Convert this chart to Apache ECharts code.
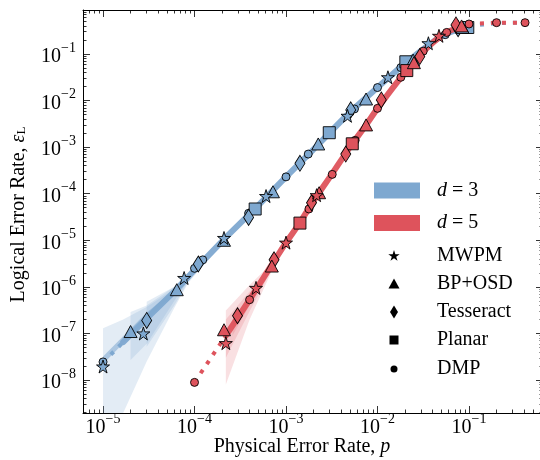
<!DOCTYPE html>
<html><head><meta charset="utf-8">
<script src="https://cdn.jsdelivr.net/npm/echarts@6/dist/echarts.min.js"></script>
<style>html,body{margin:0;padding:0;background:#fff}#c{width:540px;height:460px}</style>
</head><body><div id="c"></div>
<script>
// ---------- axis ticks ----------
const xMajorTicks = [1e-5, 1e-4, 1e-3, 1e-2, 1e-1];
const yMajorTicks = [1e-8, 1e-7, 1e-6, 1e-5, 1e-4, 1e-3, 1e-2, 1e-1];
const xRange = [6.04e-6, 0.644];
const yRange = [1.96e-9, 0.879];

// ---------- d = 3 markers ----------
const d3_MWPM      = [[1e-5,1.95e-8],[2.76e-5,1e-7],[7.7e-5,1.55e-6],[2.1e-4,1.12e-5],[6.05e-4,8.9e-5],[4.7e-3,4.7e-3],[1.3e-2,3.16e-2],[3.6e-2,0.17]];
const d3_BPOSD     = [[2e-5,1.1e-7],[6.4e-5,8.7e-7],[2.1e-4,1.0e-5],[7.2e-4,1.1e-4],[2.25e-3,1.17e-3],[7.5e-3,1.08e-2],[2.45e-2,7.4e-2],[8.5e-2,0.37]];
const d3_Tesseract = [[3e-5,1.9e-7],[1.1e-4,3.1e-6],[3.9e-4,3.1e-5],[1.42e-3,4.5e-4],[5.1e-3,6.3e-3],[7.6e-2,0.35]];
const d3_Planar    = [[4.6e-4,4.7e-5],[2.97e-3,2.04e-3],[2.04e-2,6.8e-2],[0.097,0.37]];
const d3_DMP       = [[1e-5,2.45e-8],[1.0e-4,2.5e-6],[1.23e-4,3.8e-6],[3.9e-4,3.8e-5],[1e-3,2.3e-4],[1.75e-3,7.1e-4],[5.6e-3,6.6e-3],[1e-2,1.9e-2],[1.8e-2,5.1e-2],[5.5e-2,0.26]];

// ---------- d = 5 markers ----------
const d5_MWPM      = [[2.2e-4,6.2e-8],[4.7e-4,9.5e-7],[1e-3,8.9e-6],[2.16e-3,9.3e-5],[4.7e-2,0.245]];
const d5_BPOSD     = [[2.1e-4,1.2e-7],[7e-4,2.8e-6],[2.3e-3,1.05e-4],[7.5e-3,3e-3],[2.5e-2,6.5e-2],[8.3e-2,0.4]];
const d5_Tesseract = [[2.95e-4,2.4e-7],[7.4e-4,3.8e-6],[1.9e-3,6.4e-5],[4.5e-3,7.1e-4],[1.1e-2,1.03e-2],[2.9e-2,8.8e-2],[7.2e-2,0.42]];
const d5_Planar    = [[1.42e-3,2.34e-5],[5.3e-3,1.18e-3],[2.09e-2,4.4e-2]];
const d5_DMP       = [[1e-4,8.9e-9],[4e-4,5.3e-7],[1.78e-3,4.7e-5],[3.2e-3,2.6e-4],[5.7e-3,1.4e-3],[1e-2,6.8e-3],[1.8e-2,3.16e-2],[3.16e-2,0.115],[5.7e-2,0.29],[0.1,0.44],[0.2,0.47],[0.41,0.47]];

// ---------- fit curves ----------
const d3FitX = [1.66e-5, 3e-5, 6.4e-5, 1e-4, 2.1e-4, 4.5e-4, 1e-3, 2e-3, 5e-3, 1e-2, 2e-2, 5e-2, 1e-1];
const d3FitY = [6.5e-8, 2.1e-7, 9e-7, 2.3e-6, 1.05e-5, 4.6e-5, 2.3e-4, 9e-4, 5.6e-3, 1.9e-2, 6.3e-2, 0.24, 0.4];
const d3ExtLoX = [1e-5, 1.66e-5];
const d3ExtLoY = [2.4e-8, 6.5e-8];
const d3ExtHiX = [0.1, 0.2, 0.41];
const d3ExtHiY = [0.4, 0.46, 0.47];

const d5FitX = [2.2e-4, 4e-4, 7e-4, 1e-3, 1.42e-3, 2e-3, 3.2e-3, 5e-3, 7.5e-3, 1e-2, 1.8e-2, 3.2e-2, 5.7e-2, 1e-1];
const d5FitY = [9e-8, 5.3e-7, 3e-6, 8.9e-6, 2.4e-5, 7e-5, 2.7e-4, 1e-3, 3e-3, 6.8e-3, 3.1e-2, 0.115, 0.29, 0.44];
const d5ExtLoX = [1e-4, 2.2e-4];
const d5ExtLoY = [8.9e-9, 9e-8];
const d5ExtHiX = [0.1, 0.2, 0.41];
const d5ExtHiY = [0.44, 0.47, 0.47];

// ---------- confidence bands ----------
const d3BandA_x  = [1e-5, 1.66e-5, 3e-5, 6e-5, 8.5e-5, 1.3e-4];
const d3BandA_hi = [1.3e-7, 2e-7, 3.7e-7, 9e-7, 1.65e-6, 3.6e-6];
const d3BandA_lo = [1.96e-9, 1.96e-9, 2.5e-8, 3.5e-7, 1.2e-6, 3.2e-6];
const d3BandB_x  = [2e-5, 3e-5, 6e-5, 1e-4];
const d3BandB_hi = [2.9e-7, 4e-7, 1e-6, 2.6e-6];
const d3BandB_lo = [2.7e-8, 6e-8, 5e-7, 2.2e-6];
const d3BandC_x  = [3e-5, 6e-5, 1e-4];
const d3BandC_hi = [4.8e-7, 1e-6, 2.6e-6];
const d3BandC_lo = [5.2e-8, 4e-7, 2.2e-6];
const d3BandD_x  = [1e-5, 3e-5, 6e-5];
const d3BandD_hi = [3.2e-8, 2.8e-7, 8.5e-7];
const d3BandD_lo = [2.2e-8, 2e-7, 7e-7];

const d5BandA_x  = [2.2e-4, 4e-4, 7e-4];
const d5BandA_hi = [3.1e-7, 1.1e-6, 3.2e-6];
const d5BandA_lo = [8e-9, 2e-7, 2.2e-6];
const d5BandB_x  = [2.2e-4, 4e-4, 7e-4];
const d5BandB_hi = [2e-7, 8e-7, 3e-6];
const d5BandB_lo = [3e-8, 3e-7, 2.4e-6];
const d5BandC_x  = [2.6e-4, 4e-4, 6e-4];
const d5BandC_hi = [2e-7, 6e-7, 1.8e-6];
const d5BandC_lo = [9e-8, 4e-7, 1.5e-6];

// ---------- styling ----------
const BLUE = '#7ea8d0';
const RED = '#de535c';
const FONT = "'Liberation Serif','DejaVu Serif',serif";

function minorTicks(lo, hi) {
  const out = [];
  for (let n = -10; n <= 0; n++) for (let k = 2; k <= 9; k++) {
    const v = k * Math.pow(10, n);
    if (v > lo && v < hi) out.push(v);
  }
  return out;
}
const xMinor = minorTicks(xRange[0], xRange[1]);
const yMinor = minorTicks(yRange[0], yRange[1]);

function starPoints(cx, cy, R) {
  const pts = [];
  for (let i = 0; i < 10; i++) {
    const a = -Math.PI / 2 + i * Math.PI / 5;
    const r = i % 2 === 0 ? R : R * 0.382;
    pts.push([cx + r * Math.cos(a), cy + r * Math.sin(a)]);
  }
  return pts;
}
const STAR = 'path://M' + starPoints(10, 10, 10).map(p => p[0].toFixed(3) + ' ' + p[1].toFixed(3)).join(' L') + ' Z';

const supRich = {
  b: { fontSize: 20, fontFamily: FONT, color: '#000', lineHeight: 26, verticalAlign: 'bottom' },
  s: { fontSize: 14, fontFamily: FONT, color: '#000', lineHeight: 14, verticalAlign: 'top' }
};
function powLabel(v) {
  const e = Math.round(Math.log10(v));
  return '{b|10}{s|' + (e < 0 ? '\u2212' : '') + Math.abs(e) + '}';
}

function makeAxis(dim, pos, ticks, len, labels, extra) {
  const range = dim === 'x' ? xRange : yRange;
  const ax = {
    type: 'log', logBase: 10, position: pos, min: range[0], max: range[1],
    axisLine: { show: true, onZero: false, lineStyle: { color: '#000', width: 1 } },
    axisTick: { show: true, inside: true, length: len, customValues: ticks, lineStyle: { color: '#000', width: 0.8 } },
    axisLabel: labels ? { show: true, customValues: ticks, formatter: powLabel, rich: supRich, margin: dim === 'x' ? -1 : 7 } : { show: false },
    splitLine: { show: false }, minorTick: { show: false }, minorSplitLine: { show: false }
  };
  return Object.assign(ax, extra || {});
}

function band(xs, hi, lo, color) {
  return {
    type: 'custom', xAxisIndex: 0, yAxisIndex: 0, silent: true, z: 1,
    data: [[xs[0], hi[0]]],
    renderItem: function (params, api) {
      const pts = [];
      for (let i = 0; i < xs.length; i++) pts.push(api.coord([xs[i], hi[i]]));
      for (let i = xs.length - 1; i >= 0; i--) pts.push(api.coord([xs[i], lo[i]]));
      return { type: 'polygon', shape: { points: pts }, style: { fill: color } };
    }
  };
}
function pairs(xs, ys) { return xs.map((x, i) => [x, ys[i]]); }
function line(xs, ys, color, dotted) {
  return {
    type: 'line', xAxisIndex: 0, yAxisIndex: 0, data: pairs(xs, ys), showSymbol: false, symbol: 'none',
    smooth: dotted ? false : 0.25, z: 2, silent: true,
    lineStyle: dotted ? { color: color, width: 4, type: [4, 7], cap: 'butt' } : { color: color, width: 6, cap: 'round', opacity: 0.95 }
  };
}
function marks(data, symbol, size, color) {
  return {
    type: 'scatter', xAxisIndex: 0, yAxisIndex: 0, data: data, symbol: symbol, symbolSize: size, z: 3, silent: true,
    itemStyle: { color: color, borderColor: '#000', borderWidth: 0.9, opacity: 1 }
  };
}

const SYM = {
  star: [STAR, 13], tri: ['triangle', [13, 12]], dia: ['diamond', [10, 16]], sq: ['rect', [12, 12]], circ: ['circle', 8]
};

const blueBand = 'rgba(126,168,208,0.22)';
const redBand = 'rgba(222,83,92,0.18)';

const series = [
  band(d3BandA_x, d3BandA_hi, d3BandA_lo, blueBand),
  band(d3BandB_x, d3BandB_hi, d3BandB_lo, blueBand),
  band(d3BandC_x, d3BandC_hi, d3BandC_lo, blueBand),
  band(d3BandD_x, d3BandD_hi, d3BandD_lo, 'rgba(126,168,208,0.55)'),
  band(d5BandA_x, d5BandA_hi, d5BandA_lo, redBand),
  band(d5BandB_x, d5BandB_hi, d5BandB_lo, redBand),
  band(d5BandC_x, d5BandC_hi, d5BandC_lo, redBand),
  line(d3ExtHiX, d3ExtHiY, BLUE, true),
  line(d3ExtLoX, d3ExtLoY, BLUE, true),
  line(d3FitX, d3FitY, BLUE, false),
  line(d5ExtHiX, d5ExtHiY, RED, true),
  line(d5ExtLoX, d5ExtLoY, RED, true),
  line(d5FitX, d5FitY, RED, false),
  marks(d3_DMP, SYM.circ[0], SYM.circ[1], BLUE),
  marks(d3_Planar, SYM.sq[0], SYM.sq[1], BLUE),
  marks(d3_Tesseract, SYM.dia[0], SYM.dia[1], BLUE),
  marks(d3_BPOSD, SYM.tri[0], SYM.tri[1], BLUE),
  marks(d3_MWPM, SYM.star[0], SYM.star[1], BLUE),
  marks(d5_DMP, SYM.circ[0], SYM.circ[1], RED),
  marks(d5_Planar, SYM.sq[0], SYM.sq[1], RED),
  marks(d5_Tesseract, SYM.dia[0], SYM.dia[1], RED),
  marks(d5_BPOSD, SYM.tri[0], SYM.tri[1], RED),
  marks(d5_MWPM, SYM.star[0], SYM.star[1], RED)
];

// ---------- legend (graphic) ----------
const legendMethods = ['MWPM', 'BP+OSD', 'Tesseract', 'Planar', 'DMP'];
const legendDist = ['3', '5'];
const LX = 394, TX = 437;
const methodY = [256, 284, 312, 340, 369];
function legendIcon(i, y) {
  const s = { fill: '#000' };
  if (i === 0) return { type: 'polygon', shape: { points: starPoints(LX, y, 6) }, style: s };
  if (i === 1) return { type: 'polygon', shape: { points: [[LX, y - 5.5], [LX + 5.5, y + 4.5], [LX - 5.5, y + 4.5]] }, style: s };
  if (i === 2) return { type: 'polygon', shape: { points: [[LX, y - 6.5], [LX + 4, y], [LX, y + 6.5], [LX - 4, y]] }, style: s };
  if (i === 3) return { type: 'rect', shape: { x: LX - 4.5, y: y - 4.5, width: 9, height: 9 }, style: s };
  return { type: 'circle', shape: { cx: LX, cy: y, r: 3.5 }, style: s };
}
const legendChildren = [];
[BLUE, RED].forEach((c, i) => {
  const y = i === 0 ? 190.5 : 223;
  legendChildren.push({ type: 'rect', shape: { x: 374, y: y - 8, width: 46, height: 16 }, style: { fill: c } });
  legendChildren.push({ type: 'text', x: TX, y: y, style: {
    text: '{i|d}{n| = ' + legendDist[i] + '}', verticalAlign: 'middle', align: 'left',
    rich: { i: { fontFamily: FONT, fontSize: 20, fontStyle: 'italic', fill: '#000' }, n: { fontFamily: FONT, fontSize: 20, fill: '#000' } }
  } });
});
legendMethods.forEach((m, i) => {
  legendChildren.push(legendIcon(i, methodY[i]));
  legendChildren.push({ type: 'text', x: TX, y: methodY[i], style: { text: m, fontFamily: FONT, fontSize: 20, fill: '#000', verticalAlign: 'middle', align: 'left' } });
});

const option = {
  animation: false,
  backgroundColor: '#fff',
  grid: { left: 83, top: 10, width: 460, height: 403, containLabel: false, outerBoundsMode: 'none' },
  xAxis: [
    makeAxis('x', 'bottom', xMajorTicks, 7, true, {
      name: 'Physical Error Rate, {i|p}', nameLocation: 'middle', nameGap: 24, nameMoveOverlap: false,
      nameTextStyle: { fontFamily: FONT, fontSize: 20, color: '#000', verticalAlign: 'top', padding: [0, 22, 0, 0],
        rich: { i: { fontFamily: FONT, fontSize: 20, fontStyle: 'italic', color: '#000' } } }
    }),
    makeAxis('x', 'bottom', xMinor, 3.5, false, { axisLine: { show: false } }),
    makeAxis('x', 'top', xMajorTicks, 7, false),
    makeAxis('x', 'top', xMinor, 3.5, false, { axisLine: { show: false } })
  ],
  yAxis: [
    makeAxis('y', 'left', yMajorTicks, 7, true, {
      name: 'Logical Error Rate, {e|\u03b5}{l|L}', nameLocation: 'middle', nameGap: 54, nameMoveOverlap: false,
      nameTextStyle: { fontFamily: FONT, fontSize: 20, color: '#000', padding: [0, 6, 0, 0],
        rich: { e: { fontFamily: FONT, fontSize: 20, fontStyle: 'italic', color: '#000' },
                l: { fontFamily: FONT, fontSize: 13, color: '#000', padding: [6, 0, 0, 0] } } }
    }),
    makeAxis('y', 'left', yMinor, 3.5, false, { axisLine: { show: false } }),
    makeAxis('y', 'right', yMajorTicks, 7, false),
    makeAxis('y', 'right', yMinor, 3.5, false, { axisLine: { show: false } })
  ],
  series: series,
  graphic: [{ type: 'group', children: legendChildren, z: 100 }]
};

const chart = echarts.init(document.getElementById('c'), null, { renderer: 'canvas' });
chart.setOption(option);
</script>
</body></html>
